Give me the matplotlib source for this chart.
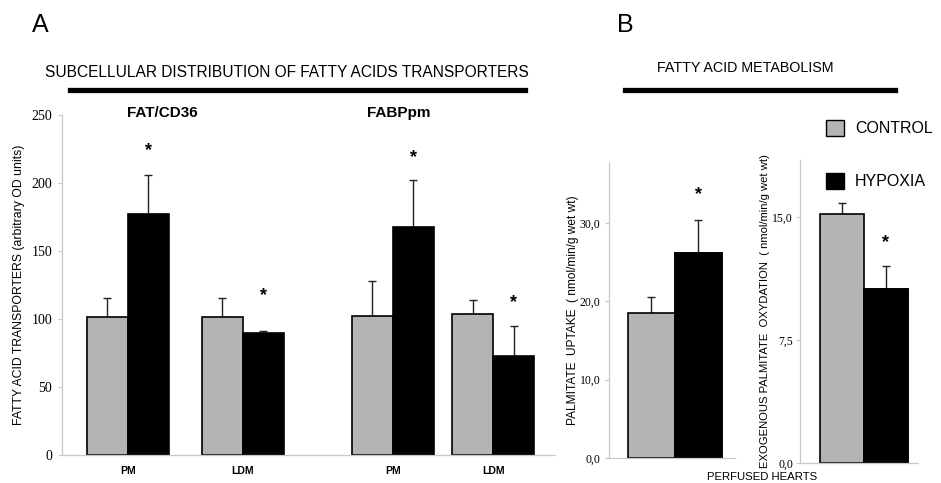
import matplotlib
matplotlib.use("Agg")
import matplotlib.pyplot as plt
from matplotlib.lines import Line2D
from matplotlib.patches import Patch

# panel A data
fat_ctrl = [101.5, 101.5]
fat_ctrl_err = [14, 14]
fat_hyp = [177, 90]
fat_hyp_err = [29, 1.5]
fabp_ctrl = [102, 104]
fabp_ctrl_err = [26, 10]
fabp_hyp = [168, 73]
fabp_hyp_err = [34, 22]
frac_labels = ["PM", "LDM", "PM", "LDM"]

# panel B data
uptake = [18.5, 26.2]
uptake_err = [2.1, 4.2]
oxid = [15.2, 10.65]
oxid_err = [0.7, 1.4]

GRAY = "#b4b4b4"
AXC = "#c8c8c8"
SANS = ["Liberation Sans", "DejaVu Sans"]
SERIF = ["Liberation Serif", "DejaVu Serif"]

W, H = 941, 483
fig = plt.figure(figsize=(W / 100, H / 100), dpi=100)


def ax_px(x0, x1, ytop, ybot):
    return fig.add_axes([x0 / W, 1 - ybot / H, (x1 - x0) / W, (ybot - ytop) / H])


def style(ax, pad=4):
    for s in ["top", "right"]:
        ax.spines[s].set_visible(False)
    for s in ["left", "bottom"]:
        ax.spines[s].set_color(AXC)
        ax.spines[s].set_linewidth(0.9)
    ax.tick_params(axis="y", length=3, color=AXC, pad=pad)
    ax.tick_params(axis="x", length=0, pad=8)
    for t in ax.get_yticklabels():
        t.set_family(SERIF)


def bars(ax, x, vals, errs, color):
    ax.bar(x, vals, width=1, color=color, edgecolor="black", linewidth=1.2, zorder=2)
    ax.errorbar(x, vals, yerr=[[0] * len(vals), errs], fmt="none", ecolor="#222222",
                elinewidth=1.0, capsize=3, capthick=1.0, zorder=1)


def star(ax, x, y):
    ax.text(x, y, "*", ha="center", va="center", fontsize=13, fontweight="bold", family=SANS)


# ---- panel A ----
axA = ax_px(62, 555, 115, 455)
centers = [1.6, 4.4, 8.05, 10.5]
ctrl = fat_ctrl + fabp_ctrl
ctrl_err = fat_ctrl_err + fabp_ctrl_err
hyp = fat_hyp + fabp_hyp
hyp_err = fat_hyp_err + fabp_hyp_err
bars(axA, [c - 0.5 for c in centers], ctrl, ctrl_err, GRAY)
bars(axA, [c + 0.5 for c in centers], hyp, hyp_err, "black")
axA.set_xlim(0, 12)
axA.set_ylim(0, 250)
axA.set_yticks([0, 50, 100, 150, 200, 250])
axA.set_xticks(centers)
axA.set_xticklabels(frac_labels, family=SANS, fontsize=7.5, fontweight="bold")
axA.tick_params(axis="y", labelsize=10)
style(axA)
star_gap = [18, 26, 17, 17]
for i in range(4):
    star(axA, centers[i] + 0.5, hyp[i] + hyp_err[i] + star_gap[i])
axA.set_ylabel("FATTY ACID TRANSPORTERS (arbitrary OD units)", family=SANS, fontsize=8.8,
               labelpad=5)
axA.text(2.45, 251.5, "FAT/CD36", ha="center", va="center", fontsize=11, fontweight="bold", family=SANS)
axA.text(8.2, 251.5, "FABPpm", ha="center", va="center", fontsize=11, fontweight="bold", family=SANS)

# ---- panel B, uptake ----
axB1 = ax_px(609, 735, 162, 458)
bars(axB1, [0.9, 1.9], uptake, uptake_err, GRAY)
axB1.bar([1.9], uptake[1:], width=1, color="black", edgecolor="black", linewidth=1.2, zorder=2)
axB1.set_xlim(0, 2.68)
axB1.set_ylim(0, 37.8)
axB1.set_yticks([0, 10, 20, 30])
axB1.set_yticklabels(["0,0", "10,0", "20,0", "30,0"])
axB1.set_xticks([])
axB1.tick_params(axis="y", labelsize=8.5)
style(axB1, pad=3)
star(axB1, 1.9, uptake[1] + uptake_err[1] + 3.2)
axB1.set_ylabel("PALMITATE  UPTAKE  ( nmol/min/g wet wt)", family=SANS, fontsize=8.6, labelpad=1)

# ---- panel B, oxidation ----
axB2 = ax_px(800, 918, 160, 463)
bars(axB2, [0.95, 1.95], oxid, oxid_err, GRAY)
axB2.bar([1.95], oxid[1:], width=1, color="black", edgecolor="black", linewidth=1.2, zorder=2)
axB2.set_xlim(0, 2.68)
axB2.set_ylim(0, 18.5)
axB2.set_yticks([0, 7.5, 15])
axB2.set_yticklabels(["0,0", "7,5", "15,0"])
axB2.set_xticks([])
axB2.tick_params(axis="y", labelsize=8.5)
style(axB2, pad=2)
star(axB2, 1.95, oxid[1] + oxid_err[1] + 1.4)
axB2.set_ylabel("EXOGENOUS PALMITATE  OXYDATION  ( nmol/min/g wet wt)", family=SANS,
                fontsize=8.1, labelpad=1.5)

# legend
handles = [Patch(facecolor=GRAY, edgecolor="black", label="CONTROL"),
           Patch(facecolor="black", edgecolor="black", label="HYPOXIA")]
fig.legend(handles=handles, loc="upper left", bbox_to_anchor=(812 / W, 1 - 106 / H),
           frameon=False, labelspacing=2.3, handlelength=1.1, handleheight=1.1,
           handletextpad=0.7, prop={"family": SANS, "size": 11.5})

# headings
fig.text(40 / W, 1 - 25 / H, "A", fontsize=18, family=SANS, ha="center", va="center")
fig.text(625 / W, 1 - 25 / H, "B", fontsize=18, family=SANS, ha="center", va="center")
fig.text(287 / W, 1 - 72 / H, "SUBCELLULAR DISTRIBUTION OF FATTY ACIDS TRANSPORTERS",
         fontsize=11.2, family=SANS, ha="center", va="center")
fig.text(745 / W, 1 - 68 / H, "FATTY ACID METABOLISM", fontsize=10.3, family=SANS,
         ha="center", va="center")
fig.add_artist(Line2D([70 / W, 525 / W], [1 - 90 / H] * 2, lw=3.8, color="black"))
fig.add_artist(Line2D([625 / W, 895 / W], [1 - 90 / H] * 2, lw=3.8, color="black"))
fig.text(762 / W, 1 - 477 / H, "PERFUSED HEARTS", fontsize=8.2, family=SANS,
         ha="center", va="center")

fig.savefig("out.png", dpi=100)
